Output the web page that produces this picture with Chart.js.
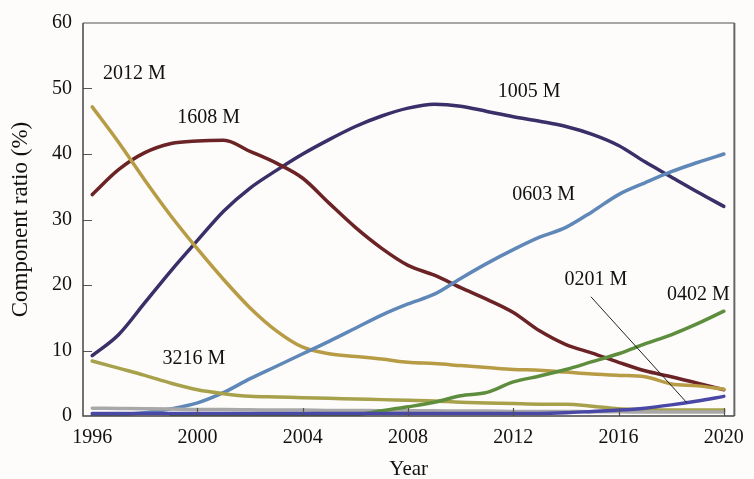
<!DOCTYPE html>
<html>
<head>
<meta charset="utf-8">
<script src="https://cdn.jsdelivr.net/npm/chart.js@4/dist/chart.umd.min.js"></script>
<style>
  html, body { margin: 0; padding: 0; background: #fdfcfb; }
  #wrap { width: 754px; height: 479px; position: relative; }
</style>
</head>
<body>
<div id="wrap"><canvas id="chart" width="754" height="479"></canvas></div>
<script>
// Component share by case size, 1996–2020 (%)
const years = [1996, 1997, 1998, 1999, 2000, 2001, 2002, 2003, 2004, 2005, 2006, 2007, 2008,
               2009, 2010, 2011, 2012, 2013, 2014, 2015, 2016, 2017, 2018, 2019, 2020];

const size2012 = [47.2, 41.8, 36.0, 30.5, 25.5, 20.8, 16.5, 13.0, 10.5, 9.5, 9.1, 8.7, 8.2,
                  8.0, 7.7, 7.4, 7.1, 7.0, 6.7, 6.4, 6.2, 6.0, 4.9, 4.6, 4.1];
const size1608 = [33.8, 37.6, 40.2, 41.6, 42.0, 42.1, 40.4, 38.6, 36.3, 32.5, 28.8, 25.6, 23.0,
                  21.5, 19.6, 17.8, 15.8, 13.0, 10.9, 9.6, 8.2, 6.9, 6.0, 5.0, 4.0];
const size1005 = [9.2, 12.4, 17.3, 22.2, 26.8, 31.3, 34.8, 37.5, 40.0, 42.2, 44.2, 45.8, 47.0,
                  47.6, 47.3, 46.5, 45.7, 45.0, 44.2, 43.0, 41.3, 38.8, 36.5, 34.2, 32.0];
const size0603 = [0.1, 0.2, 0.5, 1.1, 2.0, 3.6, 5.7, 7.6, 9.5, 11.4, 13.4, 15.4, 17.1,
                  18.6, 21.0, 23.3, 25.4, 27.3, 28.8, 31.2, 33.8, 35.6, 37.3, 38.7, 40.0];
const size0402 = [null, null, null, 0.05, 0.05, 0.1, 0.1, 0.2, 0.2, 0.1, 0.2, 0.8, 1.4,
                  2.1, 3.1, 3.6, 5.2, 6.1, 7.1, 8.3, 9.5, 11.0, 12.4, 14.1, 16.0];
const size0201 = [0.4, 0.4, 0.4, 0.4, 0.4, 0.4, 0.4, 0.4, 0.4, 0.4, 0.4, 0.4, 0.4,
                  0.4, 0.4, 0.4, 0.4, 0.4, 0.5, 0.7, 0.9, 1.2, 1.7, 2.3, 3.0];
const size3216 = [8.4, 7.3, 6.2, 5.0, 4.0, 3.4, 3.0, 2.9, 2.8, 2.7, 2.6, 2.5, 2.4,
                  2.3, 2.1, 2.0, 1.9, 1.8, 1.8, 1.5, 1.1, 1.0, 0.9, 0.9, 0.9];
const sizeOther = [1.2, 1.15, 1.1, 1.05, 1.0, 1.0, 0.95, 0.9, 0.9, 0.85, 0.85, 0.8, 0.8,
                   0.8, 0.75, 0.75, 0.7, 0.7, 0.7, 0.65, 0.65, 0.6, 0.6, 0.6, 0.6];

const xTicks = [1996, 2000, 2004, 2008, 2012, 2016, 2020];
const yTicks = [0, 10, 20, 30, 40, 50, 60];

// Series name labels, anchored in data units
const seriesNames = ['2012 M', '1608 M', '1005 M', '0603 M', '0201 M', '0402 M', '3216 M'];
const nameX = [1997.6, 2000.42, 2012.6, 2013.15, 2015.14, 2019.03, 1999.86];
const nameY = [52.3, 45.6, 49.5, 33.8, 20.8, 18.5, 8.8];

// Leader line from the 0201 M label to its curve
const leaderX = [2014.95, 2018.6];
const leaderY = [18.2, 2.0];

const toPoints = (vals) => years.map((y, i) => ({ x: y, y: vals[i] }));

function series(label, vals, color) {
  return {
    label, data: toPoints(vals), borderColor: color, backgroundColor: color,
    borderWidth: 3.5, pointRadius: 0, tension: 0.4, cubicInterpolationMode: 'monotone',
    spanGaps: false, borderCapStyle: 'round'
  };
}

const SERIF = '"Liberation Serif", "Times New Roman", serif';

const frameAndTicks = {
  id: 'frameAndTicks',
  afterDatasetsDraw(chart) {
    const { ctx, chartArea: a, scales: { x, y } } = chart;
    ctx.save();
    ctx.strokeStyle = '#555';
    ctx.lineWidth = 1.2;
    ctx.beginPath();
    yTicks.forEach(v => {
      if (v === 0 || v === 60) return;
      const py = Math.round(y.getPixelForValue(v)) + 0.5;
      ctx.moveTo(a.left, py); ctx.lineTo(a.left + 9, py);
    });
    xTicks.forEach(v => {
      if (v === 1996) return;
      const px = Math.round(x.getPixelForValue(v)) + 0.5;
      ctx.moveTo(px, a.bottom); ctx.lineTo(px, a.bottom - 8);
    });
    ctx.stroke();
    // plot frame
    ctx.lineWidth = 1.5;
    ctx.strokeStyle = '#8a8a8a';
    ctx.beginPath(); ctx.moveTo(a.left, a.top); ctx.lineTo(a.right, a.top); ctx.stroke();
    ctx.lineWidth = 2;
    ctx.strokeStyle = '#666';
    ctx.beginPath(); ctx.moveTo(a.right, a.top); ctx.lineTo(a.right, a.bottom); ctx.stroke();
    ctx.lineWidth = 1.5;
    ctx.strokeStyle = '#444';
    ctx.beginPath();
    ctx.moveTo(a.left, a.top); ctx.lineTo(a.left, a.bottom); ctx.lineTo(a.right, a.bottom);
    ctx.stroke();
    // series names
    ctx.fillStyle = '#111';
    ctx.font = '20px ' + SERIF;
    ctx.textAlign = 'center';
    ctx.textBaseline = 'middle';
    seriesNames.forEach((n, i) => {
      ctx.fillText(n, x.getPixelForValue(nameX[i]), y.getPixelForValue(nameY[i]));
    });
    ctx.restore();
  }
};

const leader = {
  label: 'leader',
  data: leaderX.map((v, i) => ({ x: v, y: leaderY[i] })),
  borderColor: '#222', borderWidth: 1, pointRadius: 0, tension: 0
};

new Chart(document.getElementById('chart'), {
  type: 'line',
  data: {
    datasets: [
      leader,
      series('0201 M', size0201, '#4a48a6'),
      series('0402 M', size0402, '#5e8e3d'),
      series('Other', sizeOther, '#a8a8a8'),
      series('3216 M', size3216, '#a6a14a'),
      series('0603 M', size0603, '#5f88b8'),
      series('2012 M', size2012, '#b79c45'),
      series('1608 M', size1608, '#6b2326'),
      series('1005 M', size1005, '#3a2f68')
    ]
  },
  options: {
    responsive: false,
    animation: false,
    layout: { padding: { left: 0, right: 10, top: 21, bottom: 0 } },
    plugins: { legend: { display: false }, tooltip: { enabled: false } },
    scales: {
      x: {
        type: 'linear', min: 1995.65, max: 2020.4,
        afterBuildTicks: (s) => { s.ticks = xTicks.map(v => ({ value: v })); },
        afterFit: (s) => { s.height = 63; },
        grid: { display: false, drawTicks: false },
        border: { display: false },
        ticks: { color: '#111', font: { family: SERIF, size: 20 }, padding: 10,
                 maxRotation: 0, autoSkip: false, callback: (v) => String(v) },
        title: { display: true, text: 'Year', color: '#111',
                 font: { family: SERIF, size: 21 }, padding: { top: 0, bottom: -3 } }
      },
      y: {
        min: 0, max: 60,
        afterBuildTicks: (s) => { s.ticks = yTicks.map(v => ({ value: v })); },
        afterFit: (s) => { s.width = 83; },
        grid: { display: false, drawTicks: false },
        border: { display: false },
        ticks: { color: '#111', font: { family: SERIF, size: 20 }, padding: 11 },
        title: { display: true, text: 'Component ratio (%)', color: '#111',
                 font: { family: SERIF, size: 23 }, padding: { top: 7, bottom: 0 } }
      }
    }
  },
  plugins: [frameAndTicks]
});
</script>
</body>
</html>
